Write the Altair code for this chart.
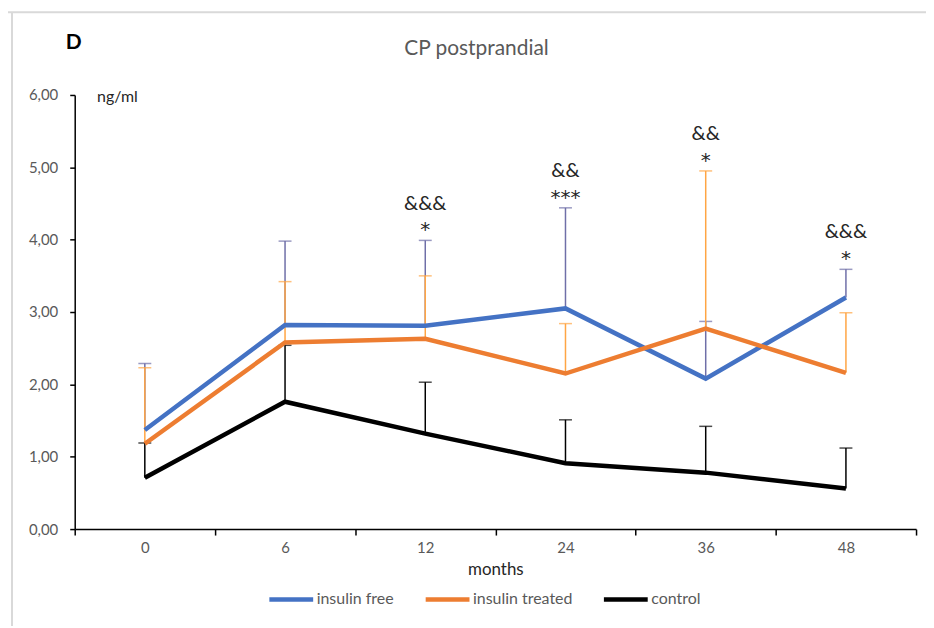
import altair as alt
import pandas as pd

months = ["0", "6", "12", "24", "36", "48"]
series = ["insulin free", "insulin treated", "control"]
line_colors = ["#4472C4", "#ED7D31", "#000000"]
err_colors = ["#6F6FA8", "#FFA544", "#000000"]

free_mean = [1.37, 2.82, 2.81, 3.05, 2.08, 3.20]
free_upper = [2.29, 3.98, 3.99, 4.44, 2.87, 3.59]
treated_mean = [1.18, 2.58, 2.63, 2.15, 2.77, 2.16]
treated_upper = [2.23, 3.42, 3.50, 2.84, 4.95, 2.99]
control_mean = [0.71, 1.76, 1.32, 0.91, 0.78, 0.56]
control_upper = [1.19, 2.54, 2.03, 1.51, 1.42, 1.12]

ann_months = ["12", "24", "36", "48"]
ann_amp = ["&&&", "&&", "&&", "&&&"]
ann_star = ["*", "***", "*", "*"]

rows = []
for name, means, uppers in zip(series, [free_mean, treated_mean, control_mean],
                               [free_upper, treated_upper, control_upper]):
    for m, v, u in zip(months, means, uppers):
        rows.append({"month": m, "series": name, "mean": v, "upper": u})
df = pd.DataFrame(rows)

tops = df.groupby("month")["upper"].max()
ann = pd.DataFrame({"month": ann_months, "amp": ann_amp, "star": ann_star,
                    "top": [tops[m] for m in ann_months]})

FONT = "Lato"

xenc = alt.X("month:N", sort=months,
             scale=alt.Scale(type="band", paddingInner=0, paddingOuter=0),
             axis=alt.Axis(title="months", tickBand="extent", labelAngle=0,
                           labelPadding=6, tickSize=6, titlePadding=6,
                           titleFontSize=17, titleFontWeight="normal",
                           titleColor="#262626"))
yscale = alt.Scale(domain=[0, 6], nice=False)
yaxis = alt.Axis(values=[0, 1, 2, 3, 4, 5, 6],
                 labelExpr="replace(format(datum.value, '.2f'), '.', ',')",
                 title="ng/ml", titleAngle=0, titleAlign="left", titleX=22,
                 titleY=2, titleBaseline="middle", titleFontSize=16,
                 titleFontWeight="normal", titleColor="#262626",
                 tickSize=5, labelPadding=12, grid=False)

base = alt.Chart(df)
layers = []
for name, col in zip(series, err_colors):
    sub = base.transform_filter(alt.datum.series == name)
    layers.append(sub.mark_rule(color=col, strokeWidth=1.5).encode(
        x=xenc, y=alt.Y("mean:Q", scale=yscale, axis=yaxis), y2="upper:Q"))
    layers.append(sub.mark_tick(color=col, thickness=1.5, size=13).encode(
        x=xenc, y=alt.Y("upper:Q", scale=yscale)))

lines = base.mark_line(strokeWidth=4.5).encode(
    x=xenc,
    y=alt.Y("mean:Q", scale=yscale, axis=yaxis),
    color=alt.Color("series:N", sort=series,
                    scale=alt.Scale(domain=series, range=line_colors),
                    legend=alt.Legend(orient="none", legendX=193, legendY=482,
                                      direction="horizontal", title=None,
                                      symbolType="stroke", symbolStrokeWidth=4.5,
                                      symbolSize=1936, labelFontSize=16,
                                      labelColor="#595959", labelFont=FONT,
                                      columnPadding=22, labelOffset=1)),
    order=alt.Order("series:N"),
)
layers.append(lines)

ann_base = alt.Chart(ann)
layers.append(ann_base.mark_text(fontSize=20, font=FONT, color="#262626",
                                 baseline="alphabetic", dy=-31).encode(
    x=xenc, y=alt.Y("top:Q", scale=yscale), text="amp:N"))
layers.append(ann_base.mark_text(fontSize=20, font="DejaVu Sans", color="#262626",
                                 baseline="alphabetic", dy=-4).encode(
    x=xenc, y=alt.Y("top:Q", scale=yscale), text="star:N"))

deco = alt.Chart(pd.DataFrame({"k": [0]}))
layers.append(deco.mark_text(text="D", fontSize=21, fontWeight="bold", font=FONT,
                             color="#000000", align="left", baseline="middle").encode(
    x=alt.value(-9), y=alt.value(-52)))
layers.append(deco.mark_rule(color="#D9D9D9", strokeWidth=2).encode(
    x=alt.value(-63), y=alt.value(-83), y2=alt.value(540)))
layers.append(deco.mark_rule(color="#D9D9D9", strokeWidth=2).encode(
    x=alt.value(-75), x2=alt.value(860), y=alt.value(-83)))

chart = alt.layer(*layers).properties(
    width=845, height=436,
    title=alt.TitleParams("CP postprandial", fontSize=21, font=FONT,
                          fontWeight="normal", color="#595959",
                          anchor="middle", dx=-19, offset=-48),
    autosize=alt.AutoSizeParams(type="none"),
    padding={"left": 67, "top": 86, "right": 10, "bottom": 96},
).configure(font=FONT).configure_view(stroke=None).configure_axis(
    domainColor="#000000", domainWidth=1.5, tickColor="#000000", tickWidth=1.5,
    labelColor="#595959", labelFontSize=15, labelFont=FONT, titleFont=FONT,
)

chart.save("out.html", embed_options={"renderer": "svg", "actions": False})
